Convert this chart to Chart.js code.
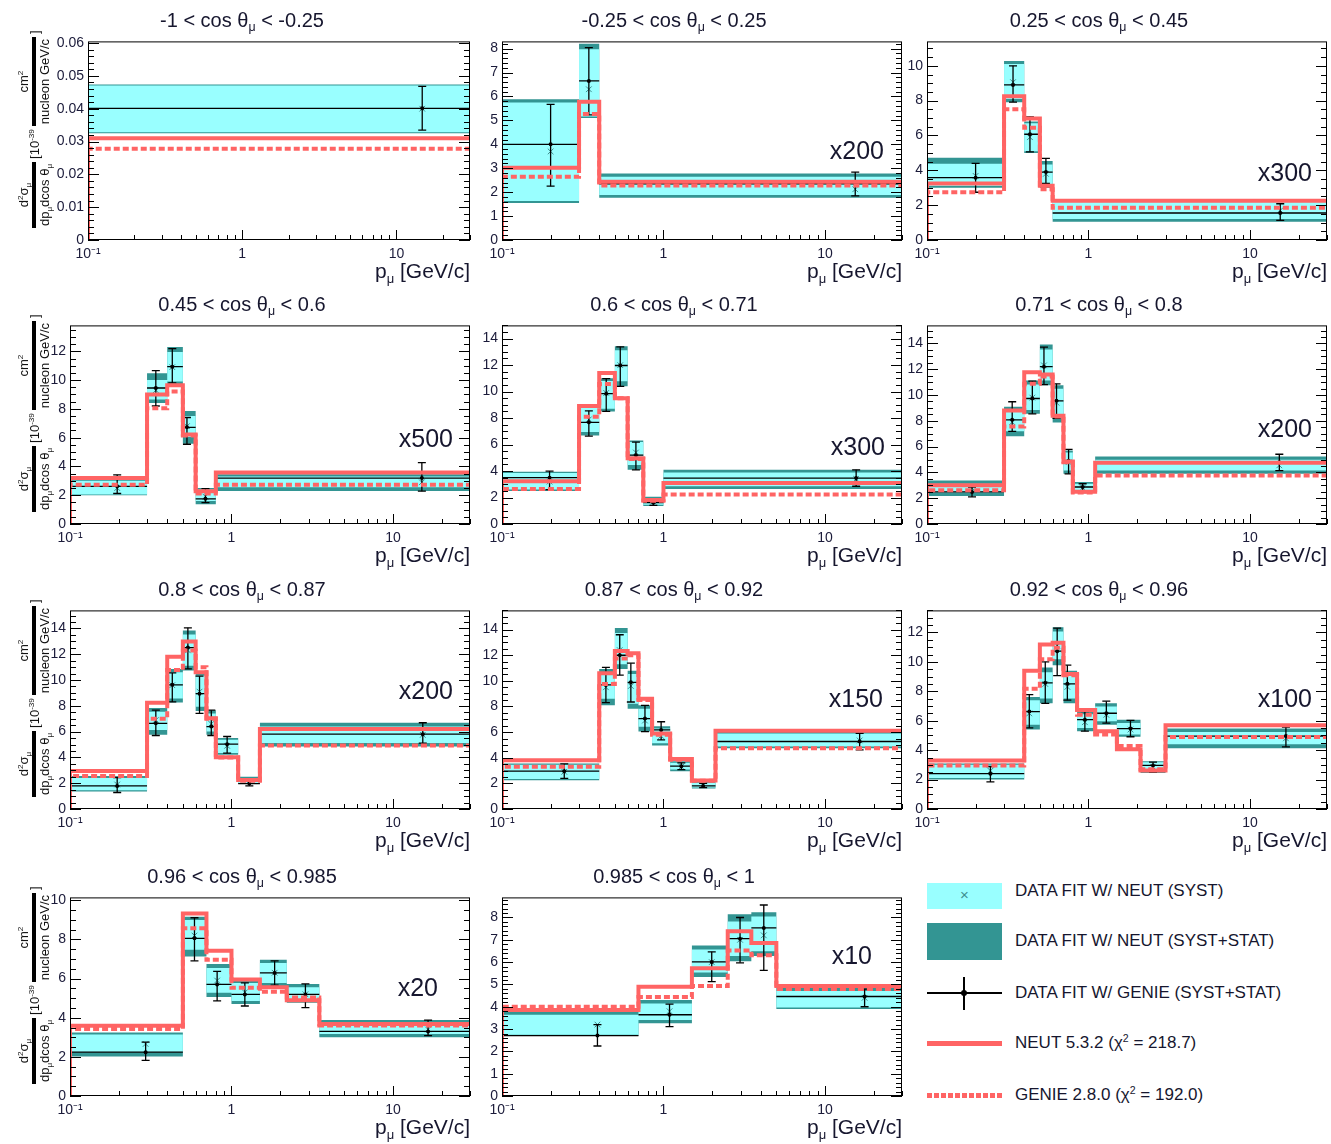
<!DOCTYPE html>
<html lang="en">
<head>
<meta charset="UTF-8">
<title>CC0pi double differential cross section</title>
<style>
  body { margin: 0; background: #fff; font-family: 'Liberation Sans', Arial, sans-serif; color: #16162e; }
  #page { position: relative; width: 1331px; height: 1144px; overflow: hidden; }
  canvas { position: absolute; }
  sub, sup { font-size: 62%; line-height: 0; }
  sub { vertical-align: -0.4em; }
  sup { vertical-align: 0.6em; }
  .title { position: absolute; font-size: 20px; white-space: nowrap; transform: translate(-50%, -50%); }
  .xlab { position: absolute; font-size: 21px; white-space: nowrap; transform: translate(-100%, -50%); }
  .mult { position: absolute; font-size: 25px; white-space: nowrap; transform: translate(-100%, -50%); }
  .ylab { position: absolute; display: flex; align-items: center; font-size: 13px; white-space: nowrap;
          transform: rotate(-90deg); transform-origin: center; color: #111; }
  .frac { display: inline-flex; flex-direction: column; align-items: stretch; margin: 0 3px; }
  .frac .num { border-bottom: 4px solid #000; text-align: center; padding: 0 2px 1px; }
  .frac .den { text-align: center; padding: 1px 2px 0; }
  .leg { position: absolute; }
  .legtxt { position: absolute; font-size: 17px; white-space: nowrap; transform: translateY(-50%); }
</style>
</head>
<body>
<div id="page"></div>

<script src="https://cdn.jsdelivr.net/npm/chart.js"></script>
<script>
  // angular slices
  const cosLow  = ['-1', '-0.25', '0.25', '0.45', '0.6', '0.71', '0.8', '0.87', '0.92', '0.96', '0.985'];
  const cosHigh = ['-0.25', '0.25', '0.45', '0.6', '0.71', '0.8', '0.87', '0.92', '0.96', '0.985', '1'];
  const scaleFactors = ['', 'x200', 'x300', 'x500', 'x300', 'x200', 'x200', 'x150', 'x100', 'x20', 'x10'];
  const yMax  = [0.0605, 8.3, 11.4, 13.8, 15.0, 15.4, 15.4, 15.5, 13.5, 10.15, 8.9];
  const yStep = [0.01, 1, 2, 2, 2, 2, 2, 2, 2, 2, 1];
  const xLabels = [0.1, 1, 10];

  // momentum bin edges [GeV/c]
  const binEdges = [
    [0.1, 30],
    [0.1, 0.3, 0.4, 30],
    [0.1, 0.3, 0.4, 0.5, 0.6, 30],
    [0.1, 0.3, 0.4, 0.5, 0.6, 0.8, 30],
    [0.1, 0.3, 0.4, 0.5, 0.6, 0.75, 1.0, 30],
    [0.1, 0.3, 0.4, 0.5, 0.6, 0.7, 0.8, 1.1, 30],
    [0.1, 0.3, 0.4, 0.5, 0.6, 0.7, 0.8, 1.1, 1.5, 30],
    [0.1, 0.4, 0.5, 0.6, 0.7, 0.85, 1.1, 1.5, 2.1, 30],
    [0.1, 0.4, 0.5, 0.6, 0.7, 0.85, 1.1, 1.5, 2.1, 3.0, 30],
    [0.1, 0.5, 0.7, 1.0, 1.5, 2.2, 3.5, 30],
    [0.1, 0.7, 1.5, 2.5, 3.5, 5.0, 30]
  ];

  // data fit w/ GENIE: point position, value, error band
  const genieX = [
    [14.7],
    [0.2, 0.345, 15.4],
    [0.2, 0.341, 0.434, 0.545, 15.4],
    [0.196, 0.34, 0.43, 0.53, 0.69, 15.1],
    [0.197, 0.345, 0.442, 0.54, 0.675, 0.866, 15.6],
    [0.19, 0.337, 0.449, 0.53, 0.634, 0.753, 0.92, 15.2],
    [0.196, 0.34, 0.43, 0.537, 0.634, 0.75, 0.94, 1.29, 15.3],
    [0.243, 0.44, 0.536, 0.628, 0.768, 0.967, 1.29, 1.76, 16.4],
    [0.247, 0.43, 0.54, 0.64, 0.74, 0.95, 1.29, 1.82, 2.51, 16.7],
    [0.294, 0.59, 0.815, 1.21, 1.85, 2.87, 16.5],
    [0.39, 1.09, 1.99, 2.98, 4.18, 17.6]
  ];
  const genieFit = [
    [0.0401],
    [4.0, 6.65, 2.35],
    [3.58, 8.9, 6.07, 3.9, 1.55],
    [2.62, 9.45, 10.93, 6.72, 1.75, 3.19],
    [3.5, 7.68, 9.84, 11.97, 5.2, 1.61, 3.47],
    [2.49, 8.08, 9.73, 12.2, 9.55, 4.9, 2.87, 4.78],
    [1.79, 6.64, 9.63, 12.52, 8.94, 6.39, 5.03, 1.97, 5.8],
    [2.95, 9.68, 12.0, 9.89, 7.06, 6.17, 3.34, 1.8, 5.27],
    [2.4, 6.62, 8.58, 10.73, 8.51, 6.07, 6.51, 5.47, 2.96, 4.96],
    [2.24, 8.06, 5.7, 5.19, 6.29, 5.19, 3.3],
    [2.71, 3.64, 6.01, 7.05, 7.53, 4.46]
  ];
  const genieLo = [
    [0.0335],
    [2.25, 5.23, 1.84],
    [2.74, 7.92, 5.06, 3.25, 1.13],
    [2.12, 8.2, 9.8, 5.54, 1.48, 2.28],
    [2.6, 6.64, 8.5, 10.4, 4.09, 1.4, 2.85],
    [2.1, 7.19, 8.54, 10.8, 8.2, 3.89, 2.44, 4.14],
    [1.28, 5.7, 8.3, 10.86, 7.41, 5.7, 4.34, 1.8, 5.11],
    [2.39, 8.3, 10.45, 8.35, 6.04, 5.39, 3.08, 1.67, 4.62],
    [1.84, 5.51, 7.18, 9.07, 7.4, 5.29, 5.84, 4.91, 2.51, 4.22],
    [1.82, 6.91, 4.86, 4.6, 5.67, 4.52, 3.09],
    [2.24, 3.11, 5.13, 5.97, 5.63, 4.0]
  ];
  const genieHi = [
    [0.0468],
    [5.67, 8.04, 2.84],
    [4.4, 10.0, 7.07, 4.68, 2.08],
    [3.42, 10.66, 12.19, 7.4, 2.46, 4.26],
    [4.0, 8.55, 10.98, 13.38, 6.19, 1.85, 4.09],
    [2.87, 9.48, 11.08, 13.72, 10.87, 5.79, 3.12, 5.41],
    [2.43, 7.66, 10.55, 14.05, 10.3, 7.66, 5.62, 2.15, 6.69],
    [3.52, 11.05, 13.6, 11.38, 8.09, 6.81, 3.6, 2.0, 5.9],
    [2.89, 7.78, 10.0, 12.29, 9.78, 6.62, 7.33, 6.02, 3.18, 5.56],
    [2.75, 9.11, 6.37, 5.78, 6.91, 5.73, 3.88],
    [3.2, 4.12, 6.46, 8.0, 8.56, 4.79]
  ];

  // data fit w/ NEUT: central value, syst band, syst+stat band
  const neutFit = [
    [0.040],
    [3.7, 6.3, 2.12],
    [3.68, 9.06, 5.9, 3.8, 1.7],
    [2.5, 9.3, 10.9, 6.8, 1.9, 2.9],
    [3.2, 7.9, 9.9, 12.0, 5.4, 1.7, 3.4],
    [2.8, 7.9, 9.8, 12.3, 9.4, 4.8, 2.8, 4.55],
    [1.9, 6.9, 9.6, 12.3, 9.1, 6.6, 4.9, 2.15, 5.75],
    [2.9, 9.5, 12.4, 9.6, 6.9, 5.7, 3.3, 1.85, 5.35],
    [2.6, 6.5, 8.5, 11.1, 8.3, 5.9, 6.4, 5.4, 2.85, 4.8],
    [2.66, 8.2, 5.9, 5.3, 6.3, 5.2, 3.4],
    [3.2, 3.8, 6.0, 7.0, 7.2, 4.4]
  ];
  const systLo = [
    [0.0328],
    [1.63, 5.16, 1.88],
    [3.1, 8.1, 5.1, 3.11, 1.2],
    [2.05, 8.65, 9.9, 6.04, 1.6, 2.55],
    [2.6, 6.94, 8.7, 10.78, 4.46, 1.45, 2.85],
    [2.44, 7.19, 8.84, 11.13, 8.2, 4.14, 2.62, 4.14],
    [1.45, 6.13, 8.56, 11.11, 7.92, 6.0, 4.34, 2.0, 5.11],
    [2.35, 8.6, 11.3, 8.22, 6.42, 5.14, 3.08, 1.67, 4.88],
    [2.1, 5.73, 7.51, 10.18, 7.51, 5.51, 5.96, 5.07, 2.51, 4.4],
    [2.24, 7.47, 5.28, 4.86, 5.78, 4.89, 3.17],
    [2.75, 3.41, 5.53, 6.27, 6.49, 3.97]
  ];
  const systHi = [
    [0.0471],
    [5.75, 7.97, 2.64],
    [4.38, 10.1, 6.7, 4.34, 2.2],
    [3.0, 10.0, 11.96, 7.5, 2.39, 3.3],
    [3.85, 8.8, 10.8, 13.13, 6.19, 1.95, 3.89],
    [3.12, 8.84, 10.82, 13.54, 10.49, 5.54, 3.12, 4.98],
    [2.4, 7.54, 10.6, 13.54, 10.35, 7.41, 5.37, 2.4, 6.39],
    [3.45, 10.6, 13.74, 10.53, 7.83, 6.29, 3.6, 2.05, 5.9],
    [3.0, 7.4, 9.29, 12.07, 9.18, 6.44, 6.96, 5.84, 3.18, 5.24],
    [3.14, 8.99, 6.54, 5.78, 6.8, 5.56, 3.71],
    [3.64, 4.15, 6.56, 7.82, 8.04, 4.71]
  ];
  const totLo = [
    [0.0325],
    [1.55, 5.1, 1.77],
    [3.0, 7.9, 5.0, 2.98, 1.05],
    [2.0, 8.4, 9.7, 5.58, 1.37, 2.3],
    [2.5, 6.69, 8.5, 10.4, 4.09, 1.36, 2.65],
    [2.18, 6.81, 8.54, 10.75, 7.88, 3.89, 2.44, 3.89],
    [1.35, 5.75, 8.25, 10.73, 7.59, 5.75, 4.2, 1.95, 4.85],
    [2.25, 8.09, 10.92, 7.83, 6.04, 4.95, 2.95, 1.6, 4.75],
    [2.0, 5.4, 7.18, 9.78, 7.18, 5.29, 5.73, 4.91, 2.45, 4.13],
    [2.02, 7.13, 5.06, 4.7, 5.62, 4.77, 3.0],
    [2.7, 3.26, 5.33, 6.04, 6.27, 3.9]
  ];
  const totHi = [
    [0.0474],
    [5.88, 8.2, 2.78],
    [4.72, 10.28, 6.8, 4.53, 2.3],
    [3.1, 10.48, 12.3, 7.86, 2.5, 3.45],
    [3.95, 9.04, 11.0, 13.43, 6.3, 2.05, 4.09],
    [3.38, 9.1, 11.13, 13.92, 10.75, 5.7, 3.25, 5.23],
    [2.55, 7.84, 10.86, 13.85, 10.6, 7.66, 5.5, 2.5, 6.69],
    [3.55, 10.92, 14.13, 10.79, 8.09, 6.45, 3.72, 2.15, 6.05],
    [3.1, 7.62, 9.62, 12.36, 9.4, 6.62, 7.18, 6.07, 3.25, 5.47],
    [3.25, 9.16, 6.75, 5.9, 6.96, 5.73, 3.88],
    [3.79, 4.3, 6.74, 8.15, 8.24, 4.85]
  ];

  // generator predictions
  const neutMC = [
    [0.031],
    [3.02, 5.78, 2.43],
    [3.25, 8.25, 6.98, 3.11, 2.26],
    [3.19, 9.0, 9.64, 6.22, 2.28, 3.58],
    [3.22, 8.92, 11.4, 9.49, 4.96, 1.81, 3.1],
    [3.0, 8.8, 11.76, 11.6, 8.4, 4.85, 2.5, 4.75],
    [2.94, 8.23, 11.8, 12.98, 10.6, 7.03, 4.01, 2.25, 6.21],
    [3.8, 10.6, 12.33, 12.15, 8.6, 5.9, 3.9, 2.23, 6.11],
    [3.29, 9.4, 11.18, 11.3, 9.18, 6.73, 5.29, 4.07, 2.62, 5.69],
    [3.59, 9.33, 7.42, 5.95, 5.56, 4.89, 3.68],
    [3.85, 4.9, 5.72, 7.38, 6.86, 4.93]
  ];
  const genieMC = [
    [0.0278],
    [2.64, 5.27, 2.28],
    [2.74, 7.5, 6.45, 2.92, 1.85],
    [2.73, 8.04, 9.2, 6.15, 2.12, 2.73],
    [2.65, 8.1, 10.58, 9.5, 4.9, 1.75, 2.23],
    [2.62, 7.57, 10.87, 11.43, 8.33, 4.78, 2.44, 3.76],
    [2.55, 7.0, 10.78, 12.3, 11.0, 7.0, 4.0, 2.2, 4.93],
    [3.29, 9.76, 11.74, 12.0, 8.5, 5.8, 3.85, 2.2, 4.75],
    [2.96, 8.18, 10.18, 10.96, 9.1, 6.4, 5.07, 4.29, 2.7, 4.89],
    [3.42, 8.57, 6.96, 5.53, 5.33, 5.03, 3.6],
    [4.0, 4.44, 4.93, 6.52, 6.31, 4.79]
  ];

  // page layout
  const colLeft = [70, 502, 927];
  const rowTop = [39, 323, 608, 895];
  const plotW = 400, plotH = 201;
  const titleOffset = 172;
  const multY = [0, 0.55, 0.66, 0.57, 0.61, 0.52, 0.41, 0.45, 0.45, 0.46, 0.30];
  const multRight = [0, 18, 15, 17, 17, 15, 17, 19, 15, 32, 30];

  const CYAN = '#99ffff', TEAL = '#339593', RED = '#ff6464', TICK = '#1b1b3a';
  const FONT = "'Liberation Sans', Arial, sans-serif";
  const page = document.getElementById('page');

  // outer frame + inward tick marks like the original plots
  const frameTicks = {
    id: 'frameTicks',
    afterDatasetsDraw(chart, args, opts) {
      const { ctx, chartArea: a, scales: { x, y } } = chart;
      ctx.save();
      ctx.strokeStyle = '#000';
      ctx.lineWidth = 1;
      ctx.strokeRect(a.left + 0.5, a.top + 0.5, a.right - a.left - 1, a.bottom - a.top - 1);
      ctx.beginPath();
      for (const d of [0.1, 1, 10]) {
        for (let m = 1; m <= 9; m++) {
          const v = d * m;
          if (v > x.max * 1.0001) continue;
          const px = Math.round(x.getPixelForValue(v)) + 0.5;
          const len = m === 1 ? 10 : 5;
          ctx.moveTo(px, a.bottom);
          ctx.lineTo(px, a.bottom - len);
        }
      }
      const n = Math.floor(y.max / opts.minor + 1e-6);
      for (let k = 0; k <= n; k++) {
        const v = k * opts.minor;
        const r = v / opts.major;
        const len = Math.abs(r - Math.round(r)) < 1e-6 ? 11 : 6;
        const py = Math.round(y.getPixelForValue(v)) + 0.5;
        ctx.moveTo(a.left, py); ctx.lineTo(a.left + len, py);
        ctx.moveTo(a.right, py); ctx.lineTo(a.right - len, py);
      }
      ctx.stroke();
      ctx.restore();
    }
  };

  function stepPoints(edges, vals, fromZero) {
    const pts = fromZero ? [{ x: edges[0], y: 0 }] : [];
    vals.forEach((v, k) => pts.push({ x: edges[k], y: v }));
    pts.push({ x: edges[edges.length - 1], y: vals[vals.length - 1] });
    return pts;
  }

  function errorBars(i) {
    const pts = [];
    genieX[i].forEach((px, k) => {
      pts.push({ x: px, y: genieLo[i][k] }, { x: px, y: genieHi[i][k] }, { x: px, y: null });
      pts.push({ x: binEdges[i][k], y: genieFit[i][k] }, { x: binEdges[i][k + 1], y: genieFit[i][k] },
               { x: binEdges[i][k + 1], y: null });
    });
    return pts;
  }

  function addDiv(cls, html, left, top) {
    const d = document.createElement('div');
    d.className = cls;
    d.innerHTML = html;
    d.style.left = left + 'px';
    d.style.top = top + 'px';
    page.appendChild(d);
    return d;
  }

  function box(data, color, fill, order) {
    return { data, order, showLine: true, stepped: 'before', borderColor: 'rgba(0,0,0,0)', borderWidth: 0,
             pointRadius: 0, backgroundColor: color, fill: fill ? '+1' : false };
  }

  function makePanel(i) {
    const row = Math.floor(i / 3), col = i % 3;
    let left = colLeft[col], width = plotW;
    if (i === 0) { left = 88; width = 382; }
    const top = rowTop[row];
    const padT = 10, padR = 10, axW = 44, axH = 26;

    const cv = document.createElement('canvas');
    cv.width = width + axW + padR;
    cv.height = plotH + padT + axH;
    cv.style.left = (left - axW) + 'px';
    cv.style.top = (top - padT) + 'px';
    page.appendChild(cv);

    const edges = binEdges[i];
    const datasets = [
      box(stepPoints(edges, totHi[i]), TEAL, true, 10),
      box(stepPoints(edges, totLo[i]), TEAL, false, 10),
      box(stepPoints(edges, systHi[i]), CYAN, true, 8),
      box(stepPoints(edges, systLo[i]), CYAN, false, 8),
      { data: genieX[i].map((x, k) => ({ x, y: neutFit[i][k] })), order: 6,
        pointStyle: 'crossRot', pointRadius: 4, borderColor: '#3f8f8f', borderWidth: 1 },
      { data: errorBars(i), order: 5, showLine: true, spanGaps: false, borderColor: '#000',
        borderWidth: 1.3, pointRadius: 0, fill: false },
      { data: genieX[i].flatMap((x, k) => [{ x, y: genieLo[i][k] }, { x, y: genieHi[i][k] }]), order: 4,
        pointStyle: 'line', pointRadius: 4, borderColor: '#000', borderWidth: 1.3 },
      { data: genieX[i].map((x, k) => ({ x, y: genieFit[i][k] })), order: 3,
        pointStyle: 'circle', pointRadius: 2, backgroundColor: '#000', borderWidth: 0 },
      { data: stepPoints(edges, genieMC[i], true), order: 2, showLine: true, stepped: 'before',
        borderColor: RED, borderWidth: 4, borderDash: [6, 3], pointRadius: 0, fill: false },
      { data: stepPoints(edges, neutMC[i], true), order: 1, showLine: true, stepped: 'before',
        borderColor: RED, borderWidth: 4, pointRadius: 0, fill: false }
    ];

    new Chart(cv, {
      type: 'scatter',
      data: { datasets },
      plugins: [frameTicks],
      options: {
        responsive: false,
        animation: false,
        devicePixelRatio: 1,
        layout: { padding: { top: padT, right: padR, left: 0, bottom: 0 }, autoPadding: false },
        plugins: {
          legend: { display: false },
          tooltip: { enabled: false },
          frameTicks: { major: yStep[i], minor: yStep[i] === 2 ? 0.5 : yStep[i] / 5 }
        },
        scales: {
          x: {
            type: 'logarithmic', min: 0.1, max: 30,
            grid: { display: false, drawTicks: false }, border: { display: false },
            ticks: { font: { family: FONT, size: 14 }, color: TICK, padding: 6, maxRotation: 0, autoSkip: false,
                     callback: v => (v === 0.1 ? '10\u207B\u00B9' : String(v)) },
            afterBuildTicks: s => { s.ticks = xLabels.map(v => ({ value: v })); },
            afterFit: s => { s.height = axH; }
          },
          y: {
            type: 'linear', min: 0, max: yMax[i],
            grid: { display: false, drawTicks: false }, border: { display: false },
            ticks: { stepSize: yStep[i], includeBounds: false, font: { family: FONT, size: 14 }, color: TICK,
                     padding: 4, callback: v => String(+v.toFixed(3)) },
            afterFit: s => { s.width = axW; }
          }
        }
      }
    });

    addDiv('title', `${cosLow[i]} &lt; cos &theta;<sub>&mu;</sub> &lt; ${cosHigh[i]}`, colLeft[col] + titleOffset, top - 19);
    addDiv('xlab', 'p<sub>&mu;</sub> [GeV/c]', left + width, top + plotH + 31);
    if (scaleFactors[i]) {
      addDiv('mult', scaleFactors[i], left + width - multRight[i], top + plotH * multY[i]);
    }
    if (col === 0) {
      const lab = addDiv('ylab',
        '<span class="frac"><span class="num">d<sup>2</sup>&sigma;<sub>&mu;</sub></span>' +
        '<span class="den">dp<sub>&mu;</sub>dcos &theta;<sub>&mu;</sub></span></span>' +
        '<span>[10<sup>-39</sup></span>' +
        '<span class="frac"><span class="num">cm<sup>2</sup></span><span class="den">nucleon GeV/c</span></span>' +
        '<span>]</span>', 0, 0);
      const w = 196, h = 36;
      lab.style.width = w + 'px';
      lab.style.height = h + 'px';
      lab.style.left = (34 - w / 2) + 'px';
      lab.style.top = (top + 94 - h / 2) + 'px';
    }
  }

  for (let i = 0; i < 11; i++) makePanel(i);

  // legend (bottom-right cell)
  function legBox(left, top, w, h, css) {
    const d = document.createElement('div');
    d.className = 'leg';
    Object.assign(d.style, { left: left + 'px', top: top + 'px', width: w + 'px', height: h + 'px' }, css);
    page.appendChild(d);
    return d;
  }
  const sw1 = legBox(927, 883, 75, 26, { background: CYAN, color: '#3f8f8f', fontSize: '15px',
                                          textAlign: 'center', lineHeight: '24px' });
  sw1.textContent = '\u00D7';
  legBox(927, 923, 75, 37, { background: TEAL });
  legBox(927, 992, 75, 1.5, { background: '#000' });
  legBox(963, 977, 1.5, 33, { background: '#000' });
  legBox(961, 990, 6, 6, { background: '#000', borderRadius: '50%' });
  legBox(927, 1041, 75, 5, { background: RED });
  legBox(927, 1093, 75, 5, { background: `repeating-linear-gradient(90deg, ${RED} 0 5px, transparent 5px 7px)` });

  const legendLabels = [
    ['DATA FIT W/ NEUT (SYST)', 891],
    ['DATA FIT W/ NEUT (SYST+STAT)', 941],
    ['DATA FIT W/ GENIE (SYST+STAT)', 993],
    ['NEUT 5.3.2 (&chi;<sup>2</sup> = 218.7)', 1043],
    ['GENIE 2.8.0 (&chi;<sup>2</sup> = 192.0)', 1095]
  ];
  legendLabels.forEach(([t, y]) => addDiv('legtxt', t, 1015, y));
</script>
</body>
</html>
